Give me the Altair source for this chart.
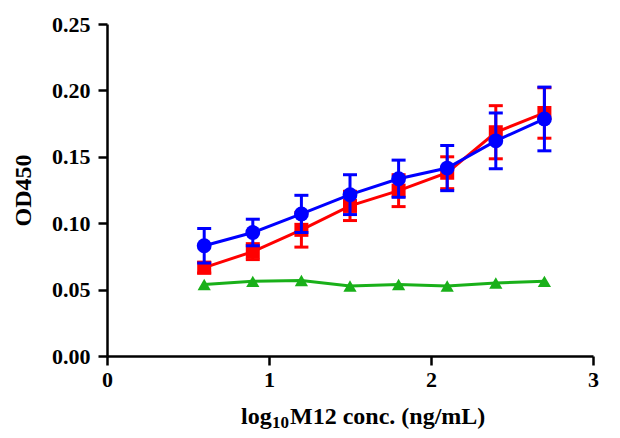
import altair as alt
import pandas as pd

x_vals = [0.6, 0.9, 1.2, 1.5, 1.8, 2.1, 2.4, 2.7]
red_y = [0.0665, 0.0786, 0.0950, 0.1130, 0.1245, 0.1380, 0.1685, 0.1830]
red_err = [0.004, 0.006, 0.013, 0.011, 0.012, 0.012, 0.020, 0.019]
blue_y = [0.0830, 0.0930, 0.1070, 0.1215, 0.1335, 0.1415, 0.1620, 0.1785]
blue_err = [0.013, 0.010, 0.014, 0.015, 0.014, 0.017, 0.021, 0.024]
green_y = [0.0538, 0.0562, 0.0568, 0.0527, 0.0538, 0.0527, 0.0550, 0.0562]

FONT = "Liberation Serif"
W, H = 486, 332


def frame(ys, errs=None):
    d = pd.DataFrame({"x": x_vals, "y": ys})
    if errs is not None:
        d["lo"] = [a - b for a, b in zip(ys, errs)]
        d["hi"] = [a + b for a, b in zip(ys, errs)]
    return d


xs = alt.Scale(domain=[0, 3], nice=False, zero=False)
ys = alt.Scale(domain=[0, 0.25], nice=False)

xaxis = alt.Axis(values=[0, 1, 2, 3], format="d", title=None, labelPadding=4)
yaxis = alt.Axis(values=[0, 0.05, 0.10, 0.15, 0.20, 0.25], format=".2f", title="OD450",
                 titleX=-84, titleY=166, titleAngle=-90, titleAlign="center",
                 titleBaseline="middle", labelPadding=8)


def series(ys_, errs, color, shape, size):
    d = frame(ys_, errs)
    base = alt.Chart(d)
    layers = []
    if errs is not None:
        rule = base.mark_rule(color=color, strokeWidth=3).encode(
            x=alt.X("x:Q", scale=xs, axis=xaxis),
            y=alt.Y("lo:Q", scale=ys, axis=yaxis),
            y2="hi:Q")
        cap_lo = base.mark_tick(color=color, orient="horizontal", size=14, thickness=3, opacity=1).encode(
            x=alt.X("x:Q", scale=xs), y=alt.Y("lo:Q", scale=ys))
        cap_hi = base.mark_tick(color=color, orient="horizontal", size=14, thickness=3, opacity=1).encode(
            x=alt.X("x:Q", scale=xs), y=alt.Y("hi:Q", scale=ys))
        layers += [rule, cap_lo, cap_hi]
    line = base.mark_line(color=color, strokeWidth=3).encode(
        x=alt.X("x:Q", scale=xs, axis=xaxis), y=alt.Y("y:Q", scale=ys, axis=yaxis))
    pts = base.mark_point(color=color, filled=True, opacity=1, shape=shape, size=size).encode(
        x=alt.X("x:Q", scale=xs), y=alt.Y("y:Q", scale=ys))
    layers += [line, pts]
    return layers


layers = []
layers += series(red_y, red_err, "#FF0000", "square", 196)
layers += series(blue_y, blue_err, "#0000FF", "circle", 220)
layers += series(green_y, None, "#19B019", "triangle-up", 175)

# x-axis title with subscript, drawn as text pieces
t_log = alt.Chart(pd.DataFrame({"t": ["log"]})).mark_text(
    font=FONT, fontSize=24, fontWeight="bold", align="left", baseline="alphabetic", color="black"
).encode(text="t:N", x=alt.value(134), y=alt.value(400))
t_sub = alt.Chart(pd.DataFrame({"t": ["10"]})).mark_text(
    font=FONT, fontSize=17, fontWeight="bold", align="left", baseline="alphabetic", color="black"
).encode(text="t:N", x=alt.value(165), y=alt.value(404))
t_rest = alt.Chart(pd.DataFrame({"t": ["M12 conc. (ng/mL)"]})).mark_text(
    font=FONT, fontSize=24, fontWeight="bold", align="left", baseline="alphabetic", color="black"
).encode(text="t:N", x=alt.value(183), y=alt.value(400))

chart = alt.layer(*layers, t_log, t_sub, t_rest).properties(
    width=W, height=H,
    autosize=alt.AutoSizeParams(type="none"),
    padding={"left": 99, "top": 16, "right": 15, "bottom": 77},
).configure_view(stroke=None).configure_axis(
    grid=False, domainColor="black", domainWidth=2.5, tickColor="black", tickWidth=2.5,
    tickSize=9, labelFont=FONT, labelFontSize=22, labelFontWeight="bold", labelColor="black",
    titleFont=FONT, titleFontSize=24, titleFontWeight="bold", titleColor="black",
    labelFlush=False, labelOverlap=False
)

chart.save("out.html", embed_options={"renderer": "svg", "actions": False})
